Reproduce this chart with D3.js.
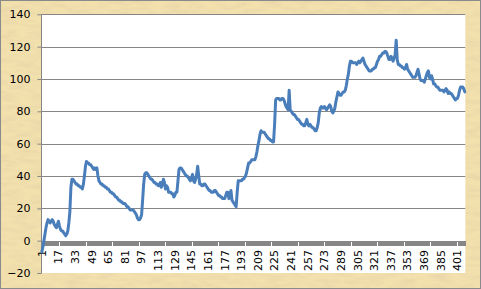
<!DOCTYPE html>
<html>
<head>
<meta charset="utf-8">
<script src="https://cdn.jsdelivr.net/npm/d3@7"></script>
<style>
    html, body { margin: 0; padding: 0; background: #ffffff; }
    svg { display: block; }
</style>
</head>
<body>
<div id="chart"></div>
<script>
// x categories are simply the row numbers 1..408
const categories = d3.range(1, 409);

// every 16th category carries a label
const xTickLabels = categories.filter(c => (c - 1) % 16 === 0);

const yTicks = [-20, 0, 20, 40, 60, 80, 100, 120, 140];

// series values (10 per row)
const values = [
    -7, -4, 0, 4, 8, 11, 13, 12, 11, 12,
    13, 12, 10, 9, 8, 10, 12, 9, 7, 6,
    6, 5, 4, 3, 4, 6, 11, 18, 33, 38,
    38, 37, 36, 35, 35, 34, 34, 33, 33, 32,
    35, 40, 46, 49, 48, 48, 47, 47, 46, 45,
    44, 45, 44, 45, 40, 37, 36, 35, 35, 34,
    34, 33, 33, 32, 32, 31, 30, 30, 29, 29,
    28, 27, 27, 26, 25, 25, 24, 24, 23, 23,
    23, 22, 21, 21, 20, 19, 19, 19, 19, 18,
    17, 16, 14, 13, 13, 14, 16, 25, 35, 41,
    42, 42, 41, 40, 39, 38, 38, 37, 36, 36,
    35, 35, 34, 34, 36, 33, 35, 38, 36, 32,
    34, 33, 30, 30, 30, 29, 29, 27, 28, 30,
    30, 37, 44, 45, 45, 44, 43, 42, 41, 40,
    40, 39, 38, 37, 39, 41, 37, 36, 38, 41,
    46, 40, 35, 35, 34, 34, 35, 35, 34, 33,
    32, 31, 31, 30, 30, 30, 31, 31, 30, 29,
    28, 28, 27, 27, 26, 26, 26, 28, 30, 30,
    26, 28, 31, 25, 24, 23, 22, 21, 30, 37,
    37, 37, 37, 38, 38, 39, 40, 42, 45, 48,
    48, 49, 50, 50, 50, 50, 52, 55, 59, 62,
    66, 68, 67, 67, 67, 66, 65, 64, 63, 63,
    62, 62, 61, 61, 72, 87, 88, 88, 88, 87,
    87, 88, 88, 87, 85, 83, 82, 81, 93, 81,
    80, 79, 78, 78, 77, 76, 75, 75, 74, 73,
    72, 72, 71, 71, 73, 75, 72, 71, 72, 71,
    70, 70, 69, 68, 68, 70, 73, 79, 82, 83,
    82, 82, 83, 82, 81, 82, 83, 84, 83, 80,
    79, 80, 82, 86, 89, 92, 91, 90, 90, 91,
    92, 92, 93, 96, 100, 103, 108, 111, 111, 110,
    110, 110, 110, 109, 110, 111, 110, 111, 112, 113,
    111, 109, 108, 107, 106, 105, 105, 105, 106, 106,
    107, 107, 109, 111, 112, 114, 114, 115, 116, 116,
    117, 117, 116, 114, 112, 112, 114, 113, 111, 113,
    115, 124, 112, 109, 109, 108, 108, 107, 107, 106,
    107, 109, 106, 105, 104, 103, 102, 101, 101, 101,
    102, 104, 106, 103, 100, 99, 99, 99, 98, 100,
    102, 104, 105, 101, 100, 102, 100, 97, 97, 96,
    95, 95, 94, 93, 93, 93, 93, 92, 93, 94,
    93, 91, 92, 91, 91, 90, 89, 88, 87, 88,
    88, 90, 93, 95, 95, 95, 94, 92
];

const width = 481, height = 289;
const plot = { left: 41.3, right: 465.3, top: 14.3, bottom: 273 };

const svg = d3.select('#chart')
    .append('svg')
    .attr('width', width)
    .attr('height', height);

const defs = svg.append('defs');

// parchment look for the chart area
const paper = defs.append('filter')
    .attr('id', 'paper')
    .attr('x', 0)
    .attr('y', 0)
    .attr('width', '100%')
    .attr('height', '100%');
paper.append('feTurbulence')
    .attr('type', 'fractalNoise')
    .attr('baseFrequency', '0.06 0.2')
    .attr('numOctaves', 3)
    .attr('seed', 7)
    .attr('result', 'noise');
paper.append('feColorMatrix')
    .attr('in', 'noise')
    .attr('type', 'matrix')
    .attr('values', '0 0 0 0 0.82  0 0 0 0 0.68  0 0 0 0 0.40  2.0 0 0 0 -0.75');

svg.append('rect')
    .attr('width', width)
    .attr('height', height)
    .style('fill', '#f2e0ad');

svg.append('rect')
    .attr('width', width)
    .attr('height', height)
    .attr('filter', 'url(#paper)');

svg.append('rect')
    .attr('x', 0.5)
    .attr('y', 0.5)
    .attr('width', width - 1)
    .attr('height', height - 1)
    .style('fill', 'none')
    .style('stroke', '#8a8a8a');

// plot area
svg.append('rect')
    .attr('x', plot.left)
    .attr('y', plot.top)
    .attr('width', plot.right - plot.left)
    .attr('height', plot.bottom - plot.top)
    .style('fill', '#ffffff');

const x = d3.scaleBand()
    .domain(categories)
    .range([plot.left, plot.right])
    .padding(0);

const y = d3.scaleLinear()
    .domain([-20, 140])
    .range([plot.bottom, plot.top]);

const font = 'DejaVu Sans, Verdana, sans-serif';

// gridlines
svg.append('g')
    .selectAll('line')
    .data(yTicks.filter(t => t > -20))
    .join('line')
    .attr('x1', plot.left)
    .attr('x2', plot.right)
    .attr('y1', d => Math.round(y(d)) + 0.5)
    .attr('y2', d => Math.round(y(d)) + 0.5)
    .style('stroke', '#868686')
    .style('stroke-width', 1);

// y axis
const yAxis = svg.append('g')
    .attr('transform', `translate(${Math.round(plot.left) + 0.5},0)`)
    .call(d3.axisLeft(y).tickValues(yTicks).tickSize(4).tickPadding(7));
yAxis.select('.domain')
    .attr('d', `M0,${plot.top}V${plot.bottom}`)
    .style('stroke', '#868686');
yAxis.selectAll('.tick line').style('stroke', '#868686');
yAxis.selectAll('.tick text')
    .style('font-family', font)
    .style('font-size', '11px')
    .style('fill', '#000000');

// x axis sits on zero, one tick per category
const y0 = Math.round(y(0));
const xAxis = svg.append('g')
    .attr('transform', `translate(0,${y0})`)
    .style('shape-rendering', 'crispEdges');

xAxis.append('line')
    .attr('x1', plot.left)
    .attr('x2', plot.right)
    .attr('y1', 0.5)
    .attr('y2', 0.5)
    .style('stroke', '#868686');

xAxis.selectAll('line.tick')
    .data(categories.concat([null]))
    .join('line')
    .attr('class', 'tick')
    .attr('x1', (d, i) => plot.left + i * x.bandwidth())
    .attr('x2', (d, i) => plot.left + i * x.bandwidth())
    .attr('y1', 0)
    .attr('y2', 5)
    .style('stroke', '#868686')
    .style('stroke-width', 1);

xAxis.selectAll('text')
    .data(xTickLabels)
    .join('text')
    .attr('transform', d => `translate(${x(d) + x.bandwidth() / 2},9) rotate(-90)`)
    .attr('dy', '0.35em')
    .attr('text-anchor', 'end')
    .style('font-family', font)
    .style('font-size', '11px')
    .style('fill', '#000000')
    .text(d => d);

// series line
const line = d3.line()
    .x((d, i) => x(categories[i]) + x.bandwidth() / 2)
    .y(d => y(d));

svg.append('path')
    .datum(values)
    .attr('d', line)
    .style('fill', 'none')
    .style('stroke', '#4a7ebb')
    .style('stroke-width', 3)
    .style('stroke-linejoin', 'round')
    .style('stroke-linecap', 'round');
</script>
</body>
</html>
